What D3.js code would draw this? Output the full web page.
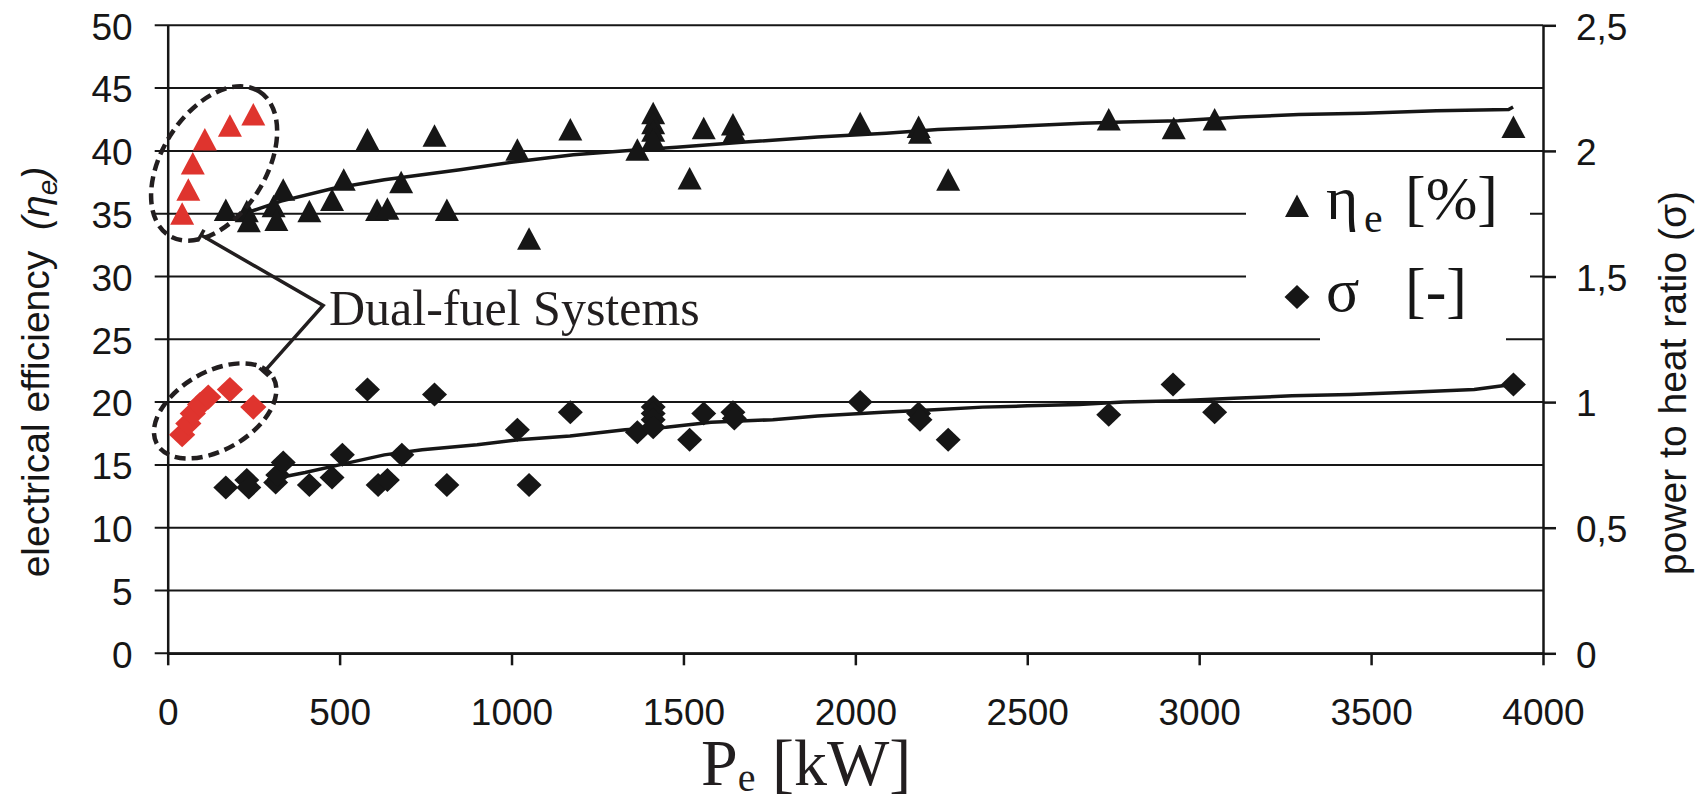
<!DOCTYPE html>
<html>
<head>
<meta charset="utf-8">
<script src="https://cdn.jsdelivr.net/npm/d3@7"></script>
<style>
  body { margin: 0; background: #fff; }
  svg { display: block; }
</style>
</head>
<body>
<svg id="chart" width="1703" height="800"></svg>
<script>
// electrical efficiency [%] vs Pe [kW]
const etaPoints = [
  [169, 35.3], [230, 35.2], [236, 34.4], [308, 35.6], [316, 34.5], [336, 36.9],
  [412, 35.2], [478, 36.1], [512, 37.7], [581, 40.9], [609, 35.3], [639, 35.4],
  [679, 37.5], [776, 41.2], [812, 35.3], [1017, 40.1], [1051, 33.0], [1171, 41.7],
  [1366, 40.1], [1412, 43.0], [1412, 42.2], [1412, 41.6], [1412, 40.9], [1518, 37.8],
  [1559, 41.8], [1644, 42.1], [1648, 41.5], [2014, 42.2], [2184, 41.9], [2188, 41.45],
  [2270, 37.7], [2737, 42.5], [2926, 41.8], [3045, 42.5], [3914, 41.9]
]
const etaDualFuel = [[42, 35.0], [60, 36.9], [73, 39.0], [108, 40.9], [181, 42.0], [249, 42.9]]

// power to heat ratio [-] vs Pe [kW]
const sigmaPoints = [
  [169, 0.66], [230, 0.69], [236, 0.66], [314, 0.68], [320, 0.71], [336, 0.76],
  [412, 0.67], [478, 0.70], [508, 0.79], [581, 1.05], [612, 0.67], [639, 0.69],
  [681, 0.79], [776, 1.03], [812, 0.67], [1017, 0.89], [1051, 0.67], [1171, 0.96],
  [1366, 0.88], [1412, 0.98], [1412, 0.955], [1412, 0.93], [1412, 0.90], [1518, 0.85],
  [1559, 0.955], [1644, 0.96], [1648, 0.935], [2014, 1.0], [2184, 0.955], [2188, 0.93],
  [2270, 0.85], [2737, 0.95], [2924, 1.07], [3045, 0.96], [3914, 1.07]
]
const sigmaDualFuel = [[42, 0.87], [60, 0.915], [73, 0.955], [94, 0.99], [118, 1.02], [181, 1.05], [249, 0.98]]

// trend lines
const etaTrend = [
  [200, 34.8], [330, 36.0], [480, 37.0], [630, 37.7], [740, 38.1], [850, 38.5],
  [1000, 39.1], [1180, 39.7], [1370, 40.1], [1480, 40.3], [1680, 40.7], [1890, 41.1],
  [2090, 41.4], [2240, 41.7], [2370, 41.85], [2500, 42.0], [2660, 42.2], [2780, 42.3],
  [2940, 42.4], [3120, 42.7], [3290, 42.9], [3480, 43.0], [3690, 43.2], [3900, 43.3], [3913, 43.5]
]
const sigmaTrend = [
  [290, 0.69], [400, 0.72], [515, 0.755], [630, 0.79], [740, 0.81], [900, 0.83],
  [1020, 0.85], [1170, 0.865], [1330, 0.89], [1450, 0.90], [1580, 0.92], [1760, 0.93],
  [1890, 0.945], [2080, 0.96], [2230, 0.97], [2370, 0.98], [2500, 0.985], [2650, 0.99],
  [2780, 1.0], [2940, 1.005], [3100, 1.015], [3270, 1.025], [3440, 1.03], [3630, 1.04],
  [3800, 1.05], [3910, 1.07]
]

const xTicks = [0, 500, 1000, 1500, 2000, 2500, 3000, 3500, 4000]
const yLeftTicks = [0, 5, 10, 15, 20, 25, 30, 35, 40, 45, 50]
const yRightTicks = [0, 0.5, 1, 1.5, 2, 2.5]

// annotation (in data units of the left axis)
const calloutLine = [[97, 33.3], [452, 27.7], [280, 22.4]]
const ellipseTop = [135, 39.0]
const ellipseBottom = [138, 19.3]

const sans = "'Liberation Sans', Arial, Helvetica, sans-serif"
const serif = "'Liberation Serif', 'Times New Roman', serif"
const ink = "#161616"
const red = "#df342e"

let svg = d3.select("#chart")

let area = { left: 167.7, right: 1543, top: 25.3, bottom: 653.3 }

let scX = d3.scaleLinear().domain([0, 4000]).range([area.left, area.right])
let scY = d3.scaleLinear().domain([0, 50]).range([area.bottom, area.top])
let scY2 = d3.scaleLinear().domain([0, 2.5]).range([area.bottom, area.top])

// horizontal grid lines (they stick out a bit left of the axis)
svg.append("g")
  .selectAll("line")
  .data(yLeftTicks)
  .enter()
  .append("line")
  .attr("x1", area.left - 13)
  .attr("x2", area.right)
  .attr("y1", d => scY(d))
  .attr("y2", d => scY(d))
  .style("stroke", ink)
  .style("stroke-width", 2)

// white legend box cuts the grid lines
svg.append("rect")
  .attr("x", 1246).attr("y", 160).attr("width", 284).attr("height", 172)
  .style("fill", "#fff")
svg.append("rect")
  .attr("x", 1320).attr("y", 332).attr("width", 186).attr("height", 16)
  .style("fill", "#fff")

// axes
let axisL = d3.axisLeft(scY).tickValues(yLeftTicks).tickSize(0).tickPadding(35)
let axisB = d3.axisBottom(scX).tickValues(xTicks).tickSizeInner(12).tickSizeOuter(0)
  .tickFormat(d3.format("d"))
let axisR = d3.axisRight(scY2).tickValues(yRightTicks).tickSizeInner(13).tickSizeOuter(0)
  .tickPadding(20).tickFormat(d => String(d).replace(".", ","))

function styleAxis(g) {
  g.select(".domain").style("stroke", ink).style("stroke-width", 2.5)
  g.selectAll(".tick line").style("stroke", ink).style("stroke-width", 2.5)
  g.selectAll("text")
    .style("font-family", sans)
    .style("font-size", "37px")
    .style("fill", ink)
}

svg.append("g")
  .attr("transform", `translate(${area.left}, 0)`)
  .call(axisL)
  .call(styleAxis)
  .selectAll("text").attr("dy", "0.37em")

svg.append("g")
  .attr("transform", `translate(0, ${area.bottom})`)
  .call(axisB)
  .call(styleAxis)
  .selectAll("text").attr("y", 72).attr("dy", null)

svg.append("g")
  .attr("transform", `translate(${area.right}, 0)`)
  .call(axisR)
  .call(styleAxis)
  .selectAll("text").attr("dy", "0.37em")

// trend lines
let lineEta = d3.line().x(d => scX(d[0])).y(d => scY(d[1]))
let lineSigma = d3.line().x(d => scX(d[0])).y(d => scY2(d[1]))

svg.append("path")
  .datum(etaTrend)
  .attr("d", lineEta)
  .style("fill", "none").style("stroke", ink).style("stroke-width", 3.5)

svg.append("path")
  .datum(sigmaTrend)
  .attr("d", lineSigma)
  .style("fill", "none").style("stroke", ink).style("stroke-width", 3.5)

// markers
const triPath = "M0,-11.5L12,11L-12,11Z"
const diaPath = "M0,-12L12.5,0L0,12L-12.5,0Z"

function drawMarkers(data, yScale, path, color, scale) {
  svg.append("g")
    .selectAll("path")
    .data(data)
    .enter()
    .append("path")
    .attr("d", path)
    .attr("transform", d => `translate(${scX(d[0])}, ${yScale(d[1])}) scale(${scale})`)
    .style("fill", color)
}

drawMarkers(etaPoints, scY, triPath, ink, 1)
drawMarkers(sigmaPoints, scY2, diaPath, ink, 1)
drawMarkers(etaDualFuel, scY, triPath, red, 1)
drawMarkers(sigmaDualFuel, scY2, diaPath, red, 1.05)

// dashed ellipses around the dual-fuel systems
svg.append("ellipse")
  .attr("cx", 0).attr("cy", 0).attr("rx", 85).attr("ry", 52)
  .attr("transform", `translate(${scX(ellipseTop[0])}, ${scY(ellipseTop[1])}) rotate(-58)`)
  .style("fill", "none").style("stroke", "#221e1f").style("stroke-width", 4.5)
  .style("stroke-dasharray", "11,6")

svg.append("ellipse")
  .attr("cx", 0).attr("cy", 0).attr("rx", 67).attr("ry", 39)
  .attr("transform", `translate(${scX(ellipseBottom[0])}, ${scY(ellipseBottom[1])}) rotate(-30)`)
  .style("fill", "none").style("stroke", "#221e1f").style("stroke-width", 4.5)
  .style("stroke-dasharray", "11,6")

// callout line with small caps at both ends
let pts = calloutLine.map(d => [scX(d[0]), scY(d[1])])
svg.append("path")
  .attr("d", d3.line()(pts))
  .style("fill", "none").style("stroke", "#221e1f").style("stroke-width", 3.5)

function cap(p, q) {
  let dx = q[0] - p[0], dy = q[1] - p[1]
  let len = Math.hypot(dx, dy)
  let nx = -dy / len * 6, ny = dx / len * 6
  svg.append("line")
    .attr("x1", p[0] - nx).attr("y1", p[1] - ny)
    .attr("x2", p[0] + nx).attr("y2", p[1] + ny)
    .style("stroke", "#221e1f").style("stroke-width", 3.5)
}
cap(pts[0], pts[1])
cap(pts[2], pts[1])

svg.append("text")
  .attr("x", 329).attr("y", 325)
  .style("font-family", serif).style("font-size", "50px").style("fill", "#221e1f")
  .text("Dual-fuel Systems")

// legend
svg.append("path").attr("d", triPath)
  .attr("transform", "translate(1297, 206)")
  .style("fill", ink)
svg.append("path").attr("d", diaPath)
  .attr("transform", "translate(1297, 297)")
  .style("fill", ink)

let leg1 = svg.append("text")
  .attr("x", 1326).attr("y", 219)
  .style("font-family", serif).style("font-size", "62px").style("fill", ink)
leg1.append("tspan").text("η")
leg1.append("tspan").attr("x", 1364).attr("dy", 13).style("font-size", "42px").text("e")
leg1.append("tspan").attr("x", 1405).attr("dy", -13).text("[%]")

let leg2 = svg.append("text")
  .attr("x", 1326).attr("y", 311)
  .style("font-family", serif).style("font-size", "62px").style("fill", ink)
leg2.append("tspan").text("σ")
leg2.append("tspan").attr("x", 1405).text("[-]")

// axis titles
let xTitle = svg.append("text")
  .attr("x", 701).attr("y", 785)
  .style("font-family", serif).style("font-size", "66px").style("fill", "#221e1f")
xTitle.append("tspan").text("P")
xTitle.append("tspan").attr("dy", 6).style("font-size", "40px").text("e")
xTitle.append("tspan").attr("dy", -6).text(" [kW]")

let yTitle = svg.append("text")
  .attr("transform", "translate(49, 372) rotate(-90)")
  .attr("text-anchor", "middle")
  .style("font-family", sans).style("font-size", "39px").style("fill", ink)
yTitle.append("tspan").text("electrical efficiency ")
yTitle.append("tspan").attr("dx", 10).style("font-style", "italic").text("(η")
yTitle.append("tspan").attr("dy", 8).style("font-style", "italic").style("font-size", "28px").text("e")
yTitle.append("tspan").attr("dy", -8).style("font-style", "italic").text(")")

svg.append("text")
  .attr("transform", "translate(1686, 383) rotate(-90)")
  .attr("text-anchor", "middle")
  .style("font-family", sans).style("font-size", "39px").style("fill", ink)
  .text("power to heat ratio (σ)")
</script>
</body>
</html>
